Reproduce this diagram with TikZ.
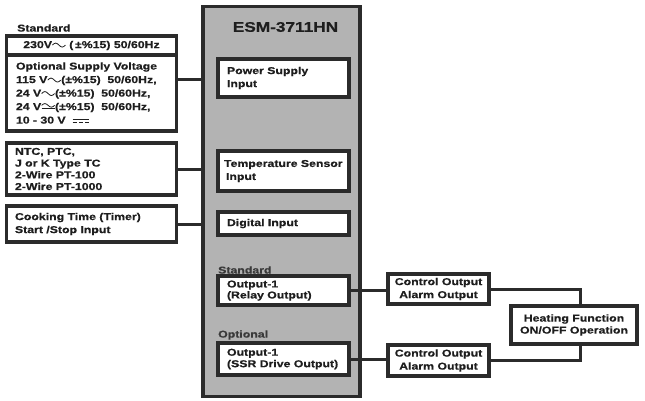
\documentclass[tikz,border=0pt]{standalone}
\usepackage{fontspec}
\setmainfont{Liberation Sans}[FakeStretch=1.23, BoldFeatures={FakeBold=0.5}]
\definecolor{bord}{HTML}{2B2B2B}
\definecolor{ink}{HTML}{1E1E1E}
\definecolor{lab}{HTML}{3A3A3A}
\definecolor{mgray}{HTML}{B3B3B3}
\newcommand{\acsym}{\tikz[baseline=0pt,x=1pt,y=1pt,line width=0.8pt]\draw[ink] (0,3) sin (3.25,5) cos (6.5,3) sin (9.75,1) cos (13,3);}
\newcommand{\acdcsym}{\tikz[baseline=0pt,x=1pt,y=1pt,line width=0.8pt]{\draw[ink] (0,4.7) sin (3.25,6.5) cos (6.5,4.7) sin (9.75,2.9) cos (13,4.7); \draw[ink] (0,1.2)--(13,1.2);}}
\newcommand{\dcsym}{\tikz[baseline=0pt,x=1pt,y=1pt,line width=0.8pt]{\draw[ink] (0,4.5)--(16,4.5); \draw[ink,dash pattern=on 3.8pt off 2.3pt] (0,1)--(16,1);}}
\begin{document}
\begin{tikzpicture}[x=1pt,y=-1pt,
  txt/.style={font=\fontsize{10}{13}\selectfont\bfseries, text=ink},
  boxbase/.style={txt, draw=bord, line width=3.2pt, fill=white, inner sep=0pt, outer sep=0pt, anchor=north west},
  lbox/.style n args={3}{boxbase, minimum width=#1, minimum height=#2, text width=#1-2*#3, align=left},
  cbox/.style 2 args={boxbase, minimum width=#1, minimum height=#2, align=center},
  conn/.style={draw=bord, line width=3pt},
  lbl/.style={txt, anchor=west, inner sep=0pt}]
\useasboundingbox (0,0) rectangle (645,400);

% main unit
\node[draw=bord, line width=3.2pt, fill=mgray, inner sep=0pt, outer sep=0pt, anchor=north west,
      minimum width=157, minimum height=390] (main) at (203,6.5) {};
\node[txt, font=\fontsize{14}{16}\selectfont\bfseries, text=ink, inner sep=0pt] (title) at (285.5,27) {ESM-3711HN};

\node[lbox={131}{38}{9}] (psi) at (218,59) {Power Supply\\Input};
\node[lbox={131}{40}{6}] (tsi) at (218,151) {\mbox{Temperature Sensor}\\\hspace*{2pt}Input};
\node[lbox={131}{23}{9}] (din) at (218,212) {Digital Input};
\node[lbl, text=lab] (std2) at (218,270) {Standard};
\node[lbox={131}{29}{9}, font=\fontsize{10}{11}\selectfont\bfseries] (relay) at (218,276) {Output-1\\(Relay Output)};
\node[lbl, text=lab] (opt2) at (218,335) {Optional};
\node[lbox={131}{32}{9}, font=\fontsize{10}{11.5}\selectfont\bfseries] (ssr) at (218,343) {Output-1\\\mbox{(SSR Drive Output)}};

% left side
\node[lbl] (std1) at (17,28) {Standard};
\node[cbox={170}{19}] (v230) at (6.5,36) {230V\acsym{} (\,±\%15) 50/60Hz};
\node[lbox={170}{76}{9.5}, font=\fontsize{10}{13.5}\selectfont\bfseries] (vopt) at (6.5,55)
  {Optional Supply Voltage\\
   115 V\acsym(±\%15)\ \ 50/60Hz,\\
   24 V\acsym(±\%15)\ \ 50/60Hz,\\
   24 V\acdcsym(±\%15)\ \ 50/60Hz,\\
   10 - 30 V\ \ \dcsym};
\node[lbox={170}{52}{8.5}, font=\fontsize{10}{11.7}\selectfont\bfseries] (ntc) at (6.5,143)
  {NTC, PTC,\\J or K Type TC\\2-Wire PT-100\\2-Wire PT-1000};
\node[lbox={170}{36}{8.5}] (cook) at (6.5,206) {Cooking Time (Timer)\\Start /Stop Input};

% right side
\node[cbox={101}{30}] (ctl1) at (388,274) {Control Output\\Alarm Output};
\node[cbox={101}{31}] (ctl2) at (388,345) {Control Output\\Alarm Output};
\node[cbox={126}{38}, font=\fontsize{10}{12}\selectfont\bfseries] (heat) at (511,306) {Heating Function\\ON/OFF Operation};

% connectors
\coordinate (pwry) at (0,79);
\draw[conn] (vopt.east |- pwry) -- (main.west |- pwry);
\draw[conn] (ntc.east) -- (ntc.east -| main.west);
\draw[conn] (cook.east) -- (cook.east -| main.west);
\draw[conn] (relay.east) -- (relay.east -| ctl1.west);
\draw[conn] (ssr.east) -- (ssr.east -| ctl2.west);
\draw[conn] (ctl1.east) -| ([xshift=6pt]heat.north);
\draw[conn] (ctl2.east) -| ([xshift=6pt]heat.south);
\end{tikzpicture}
\end{document}
